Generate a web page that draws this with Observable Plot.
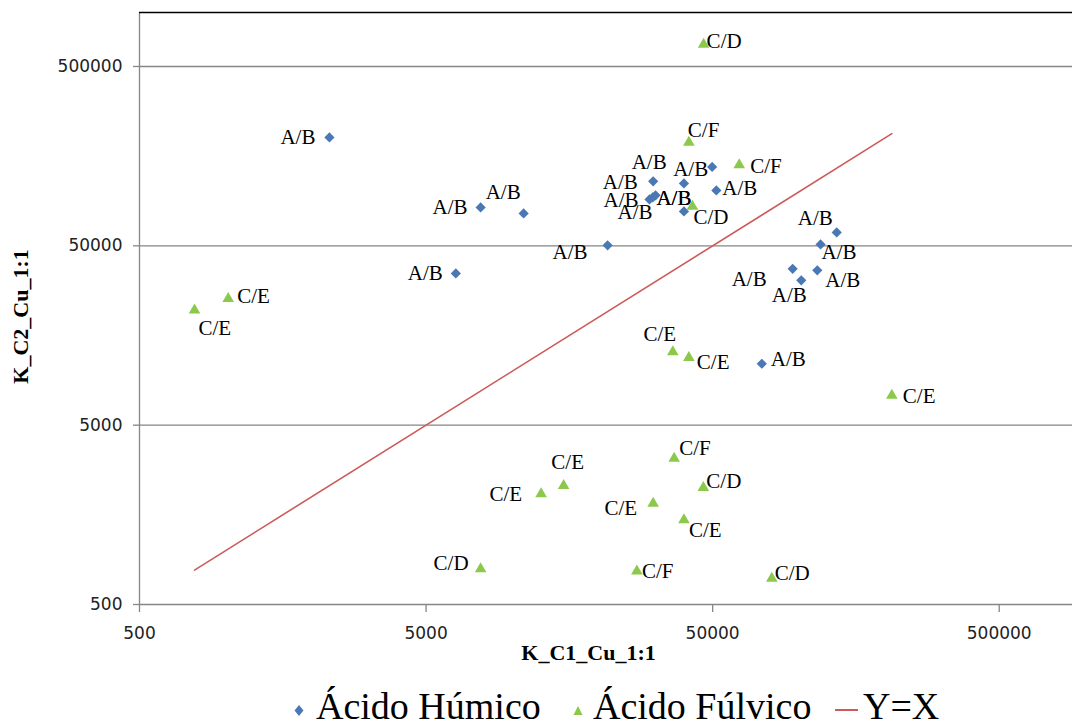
<!DOCTYPE html>
<html><head><meta charset="utf-8">
<script src="https://cdn.jsdelivr.net/npm/d3@7"></script>
<script src="https://cdn.jsdelivr.net/npm/@observablehq/plot@0.6"></script>
<style>
body{margin:0;background:#fff;width:1072px;height:726px;overflow:hidden}
#chart svg{display:block}
#legend{position:relative;width:1072px;height:61px;overflow:hidden;font-family:"Liberation Serif","Times New Roman",serif;font-size:38px;color:#000}
#legend .item{position:absolute;top:22px;line-height:38px;white-space:nowrap}
#legend svg{position:absolute}
</style></head><body>
<div id="chart"></div>
<div id="legend">
  <svg style="left:294px;top:40px" width="10" height="11"><path d="M5 0 L9.5 5.5 L5 11 L0.5 5.5 Z" fill="#4a78b5"/></svg>
  <span class="item" style="left:316px">Ácido Húmico</span>
  <svg style="left:573px;top:41px" width="10" height="9"><path d="M5 0 L9.5 9 L0.5 9 Z" fill="#8cc84b"/></svg>
  <span class="item" style="left:593px">Ácido Fúlvico</span>
  <div style="position:absolute;left:835px;top:44px;width:23px;height:2px;background:#cd5a5a"></div>
  <span class="item" style="left:863px">Y=X</span>
</div>
<script>
// ---- data ----
const xTicks = [500, 5000, 50000, 500000];
const yTicks = [500, 5000, 50000, 500000];
const xDomain = [500, 1000000];
const yDomain = [500, 1000000];

// Ácido Húmico (K_C1_Cu_1:1, K_C2_Cu_1:1)
const humicoX = [2300, 7750, 10950, 6350, 21500, 49800, 31000, 39700, 51500, 30900, 31600, 30100, 39700, 135500, 119000, 95100, 101900, 115900, 74200];
const humicoY = [201000, 81900, 75800, 35100, 50300, 137700, 114400, 111400, 101800, 93100, 95600, 90700, 77800, 59400, 50900, 37200, 32100, 36500, 11000];
const humicoLabels = ["A/B","A/B","A/B","A/B","A/B","A/B","A/B","A/B","A/B","A/B","A/B","A/B","A/B","A/B","A/B","A/B","A/B","A/B","A/B"];
// label placement: [anchor, dx, dy]
const humicoLabelPos = [
  ["end",-14,0],["end",-13,0],["end",-3,-21],["end",-13,0],["end",-20,7],
  ["end",-4,2],["middle",-4,-19],["middle",-10,15],["start",6,-2],
  ["end",-15,-15],["end",-17,5],["end",3,13],["middle",-10,-13],
  ["end",-4,-14],["start",1,8],["end",-26,10],["middle",-12,15],["start",8,10],["start",9,-4]
];

// Ácido Fúlvico
const fulvicoX = [46500, 41300, 61900, 42500, 1020, 778, 36300, 41300, 211000, 36700, 15100, 12600, 31000, 39700, 46400, 7750, 27200, 80400];
const fulvicoY = [664000, 188700, 141300, 82900, 25400, 21900, 12800, 11900, 7320, 3260, 2300, 2070, 1830, 1480, 2240, 790, 767, 698];
const fulvicoLabels = ["C/D","C/F","C/F","C/D","C/E","C/E","C/E","C/E","C/E","C/F","C/E","C/E","C/E","C/E","C/D","C/D","C/F","C/D"];
const fulvicoLabelPos = [
  ["start",3,-3],["start",-1,-12],["start",11,1],["start",1,11],["start",9,-2],["start",4,18],
  ["middle",-13,-18],["start",8,5],["start",11,1],["start",5,-10],["middle",4,-23],["end",-19,0],
  ["end",-16,5],["start",5,10],["start",3,-6],["end",-12,-6],["start",5,0],["start",3,-5]
];

// Y = X reference line (endpoints)
const lineXY = [778, 211000];

// ---- build ----
const serif = "Liberation Serif, Times New Roman, serif";
const humico = humicoX.map((x, i) => ({x, y: humicoY[i], label: humicoLabels[i], pos: humicoLabelPos[i]}));
const fulvico = fulvicoX.map((x, i) => ({x, y: fulvicoY[i], label: fulvicoLabels[i], pos: fulvicoLabelPos[i]}));
const yx = lineXY.map(v => ({x: v, y: v}));

const labelMarks = rows => rows.map(d => Plot.text([d], {
  x: "x", y: "y", text: "label",
  textAnchor: d.pos[0], dx: d.pos[1], dy: d.pos[2],
  fontSize: 21, fontFamily: serif, fill: "#000"
}));

const grid = "#868686";
const chart = Plot.plot({
  width: 1072, height: 665,
  marginLeft: 139, marginRight: -13, marginTop: 12, marginBottom: 61,
  x: {type: "log", domain: xDomain},
  y: {type: "log", domain: yDomain},
  style: {background: "#fff"},
  marks: [
    Plot.gridY(yTicks.slice(1), {stroke: grid, strokeOpacity: 1, strokeWidth: 1.3}),
    Plot.ruleY([yDomain[0]], {stroke: grid, strokeWidth: 1.3}),
    Plot.ruleX([xDomain[0]], {stroke: grid, strokeWidth: 1.3}),
    Plot.ruleY([yDomain[1]], {stroke: "#000", strokeWidth: 1.5}),
    Plot.axisY(yTicks, {tickSize: 6, tickPadding: 11, tickFormat: d => String(d), fontSize: 17, fontFamily: "DejaVu Sans", stroke: grid, strokeWidth: 1.3, fill: "#222", label: null}),
    Plot.axisX(xTicks, {tickSize: 8, tickPadding: 13, tickFormat: d => String(d), fontSize: 17, fontFamily: "DejaVu Sans", stroke: grid, strokeWidth: 1.3, fill: "none", label: null}),
    Plot.text(xTicks, {x: d => d, frameAnchor: "bottom", text: d => String(d), textAnchor: "middle", lineAnchor: "middle", dy: 29, fontSize: 17, fontFamily: "DejaVu Sans", fill: "#222"}),
    Plot.text(["K_C1_Cu_1:1"], {frameAnchor: "bottom", text: d => d, textAnchor: "middle", lineAnchor: "middle", dx: -24, dy: 48, fontWeight: "bold", fontFamily: serif, fontSize: 22, fill: "#000"}),
    Plot.text(["K_C2_Cu_1:1"], {frameAnchor: "left", text: d => d, textAnchor: "middle", lineAnchor: "middle", rotate: -90, dx: -119, dy: 8, fontWeight: "bold", fontFamily: serif, fontSize: 22, fill: "#000"}),
    Plot.line(yx, {x: "x", y: "y", stroke: "#cd5a5a", strokeWidth: 1.6}),
    Plot.dot(humico, {x: "x", y: "y", symbol: "diamond2", r: 4.6, fill: "#4a78b5"}),
    Plot.dot(fulvico, {x: "x", y: "y", symbol: "triangle", r: 4.3, fill: "#8cc84b"}),
    ...labelMarks(humico),
    ...labelMarks(fulvico)
  ]
});
document.getElementById("chart").appendChild(chart);
</script>
</body></html>
